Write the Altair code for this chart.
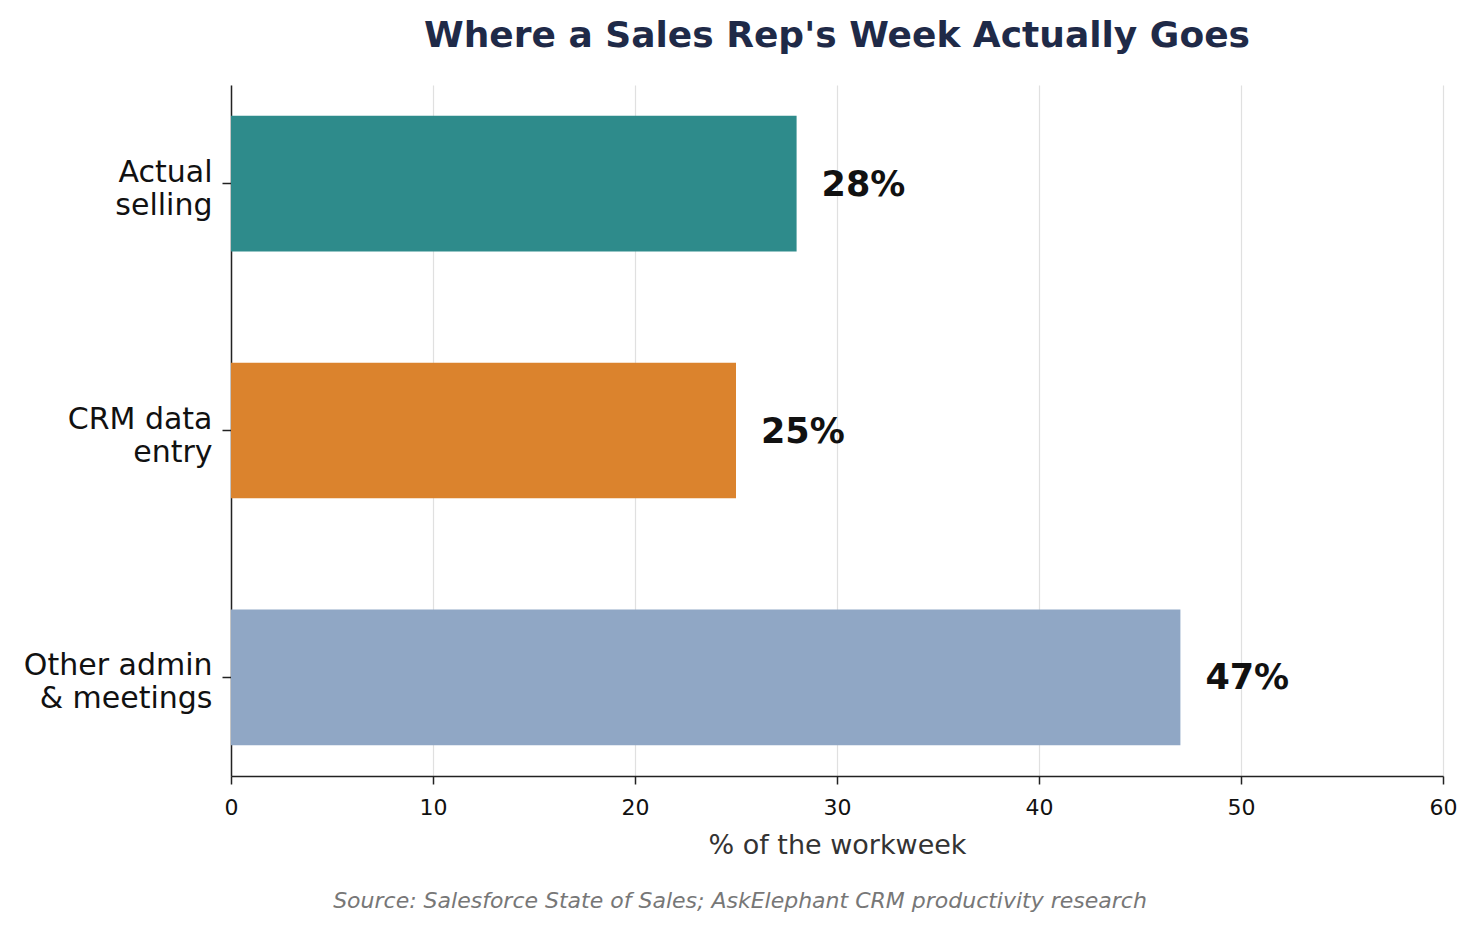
import pandas as pd
import altair as alt

# Данные
categories = ["Actual\nselling", "CRM data\nentry", "Other admin\n& meetings"]
shares = [28, 25, 47]
colors = ["#2e8b8b", "#db832d", "#90a7c5"]

source = pd.DataFrame({"category": categories, "share": shares})

FONT = "DejaVu Sans"

y_enc = alt.Y(
    "category:N",
    sort=categories,
    title=None,
    scale=alt.Scale(paddingInner=0.45, paddingOuter=0.125),
    axis=alt.Axis(
        labelExpr="split(datum.label, '\\n')",
        labelFontSize=30,
        labelLineHeight=33,
        labelOffset=-11,
        labelLimit=400,
        labelColor="#111111",
        labelFont=FONT,
        labelPadding=10,
        tickSize=9,
        tickWidth=1.5,
        tickColor="#222222",
        domainColor="#222222",
        domainWidth=1.5,
        grid=False,
    ),
)

x_enc = alt.X(
    "share:Q",
    title="% of the workweek",
    scale=alt.Scale(domain=[0, 60], nice=False),
    axis=alt.Axis(
        values=[0, 10, 20, 30, 40, 50, 60],
        labelFontSize=22,
        labelFont=FONT,
        labelColor="#111111",
        labelFlush=False,
        labelPadding=13,
        tickSize=8,
        tickWidth=1.5,
        tickColor="#222222",
        domainColor="#222222",
        domainWidth=1.5,
        gridColor="#e0e0e0",
        gridWidth=1.2,
        titleFont=FONT,
        titleFontSize=27,
        titleFontWeight="normal",
        titleColor="#333333",
        titlePadding=14,
    ),
)

bars = alt.Chart(source).mark_bar().encode(
    x=x_enc,
    y=y_enc,
    color=alt.Color(
        "category:N",
        scale=alt.Scale(domain=categories, range=colors),
        legend=None,
    ),
)

# Подписи значений справа от баров
labels = alt.Chart(source).transform_calculate(
    label="datum.share + '%'"
).mark_text(
    align="left",
    baseline="middle",
    dx=25,
    dy=1,
    font=FONT,
    fontSize=35,
    fontWeight="bold",
    color="#111111",
).encode(
    x="share:Q",
    y=alt.Y("category:N", sort=categories),
    text="label:N",
)

# Источник внизу
note = alt.Chart(pd.DataFrame({"t": ["Source: Salesforce State of Sales; AskElephant CRM productivity research"]})).mark_text(
    align="center",
    baseline="middle",
    font=FONT,
    fontSize=22,
    fontStyle="italic",
    color="#777777",
).encode(
    x=alt.value(509),
    y=alt.value(816),
    text="t:N",
)

chart = alt.layer(bars, labels, note).properties(
    width=1212,
    height=691,
    autosize=alt.AutoSizeParams(type="none"),
    padding={"left": 223, "top": 77, "right": 29, "bottom": 148},
    title=alt.TitleParams(
        "Where a Sales Rep's Week Actually Goes",
        font=FONT,
        fontSize=36,
        fontWeight="bold",
        color="#1f2a48",
        anchor="middle",
        offset=30,
    ),
).configure_view(stroke=None)

chart.save("out.html", embed_options={"renderer": "svg", "actions": False})
